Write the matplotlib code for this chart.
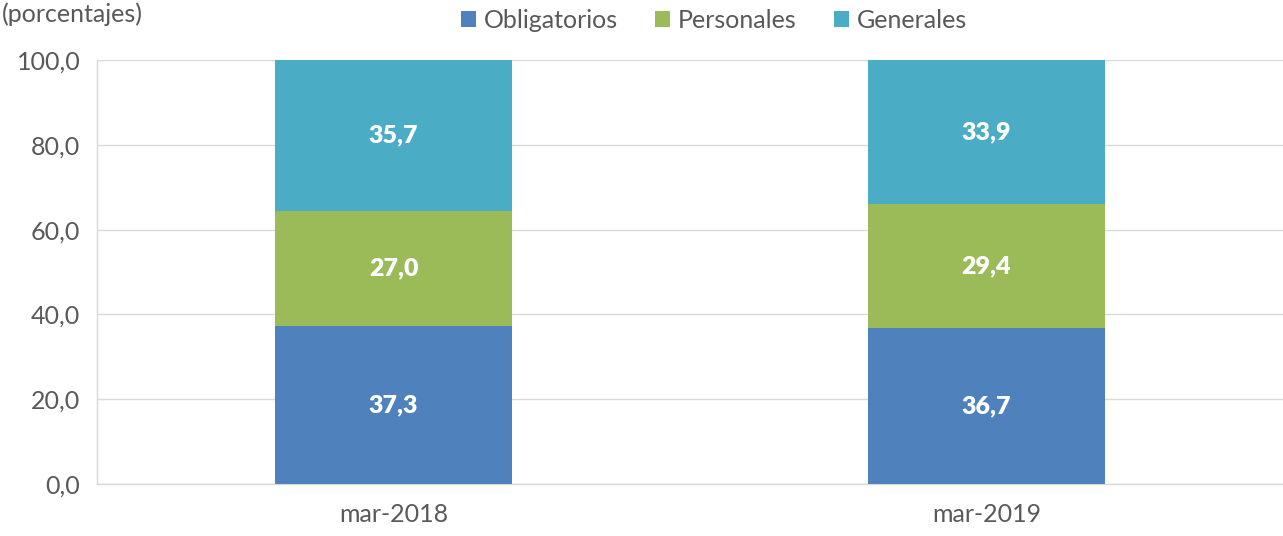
import numpy as np
import matplotlib.pyplot as plt

# data
periods = ["mar-2018", "mar-2019"]
obligatorios = [37.3, 36.7]
personales = [27.0, 29.4]
generales = [35.7, 33.9]

series = [("Obligatorios", obligatorios, "#4F81BD"),
          ("Personales", personales, "#9BBB59"),
          ("Generales", generales, "#4BACC6")]

plt.rcParams['font.family'] = ['Lato', 'DejaVu Sans']
txt_color = "#595959"

fig = plt.figure(figsize=(12.83, 5.36), dpi=100)
ax = fig.add_axes([97 / 1283, 1 - 484 / 536, 1 - 97 / 1283, 424 / 536])

x = np.arange(len(periods))
bottom = np.zeros(len(periods))
for name, vals, color in series:
    vals = np.array(vals)
    ax.bar(x, vals, width=0.4, bottom=bottom, color=color, label=name, zorder=3)
    for xi, b, v in zip(x, bottom, vals):
        ax.text(xi, b + v / 2, f"{v:.1f}".replace(".", ","), ha="center", va="center",
                color="white", fontsize=18, fontweight="heavy", zorder=4)
    bottom += vals

ax.set_xlim(-0.5, 1.5)
ax.set_ylim(0, 100)
ax.set_yticks(np.arange(0, 101, 20))
ax.set_yticklabels([f"{v:.1f}".replace(".", ",") for v in np.arange(0, 101, 20)])
ax.set_xticks(x)
ax.set_xticklabels(periods)
ax.tick_params(axis="both", length=0, labelsize=18, colors=txt_color)
ax.tick_params(axis="y", pad=12)
ax.tick_params(axis="x", pad=14)
ax.grid(axis="y", color="#D9D9D9", linewidth=1, zorder=0)
for side in ["top", "right"]:
    ax.spines[side].set_visible(False)
for side in ["left", "bottom"]:
    ax.spines[side].set_color("#D9D9D9")
    ax.spines[side].set_linewidth(1)

fig.legend(loc="center", bbox_to_anchor=(714 / 1283, 1 - 20 / 536), ncol=3,
           frameon=False, fontsize=18, labelcolor=txt_color, handlelength=0.6,
           handleheight=0.6, handletextpad=0.3, columnspacing=1.5)

fig.text(2 / 1283, 1 - 2 / 536, "(porcentajes)", ha="left", va="top",
         fontsize=18, color=txt_color)

fig.savefig("out.png", dpi=100)
